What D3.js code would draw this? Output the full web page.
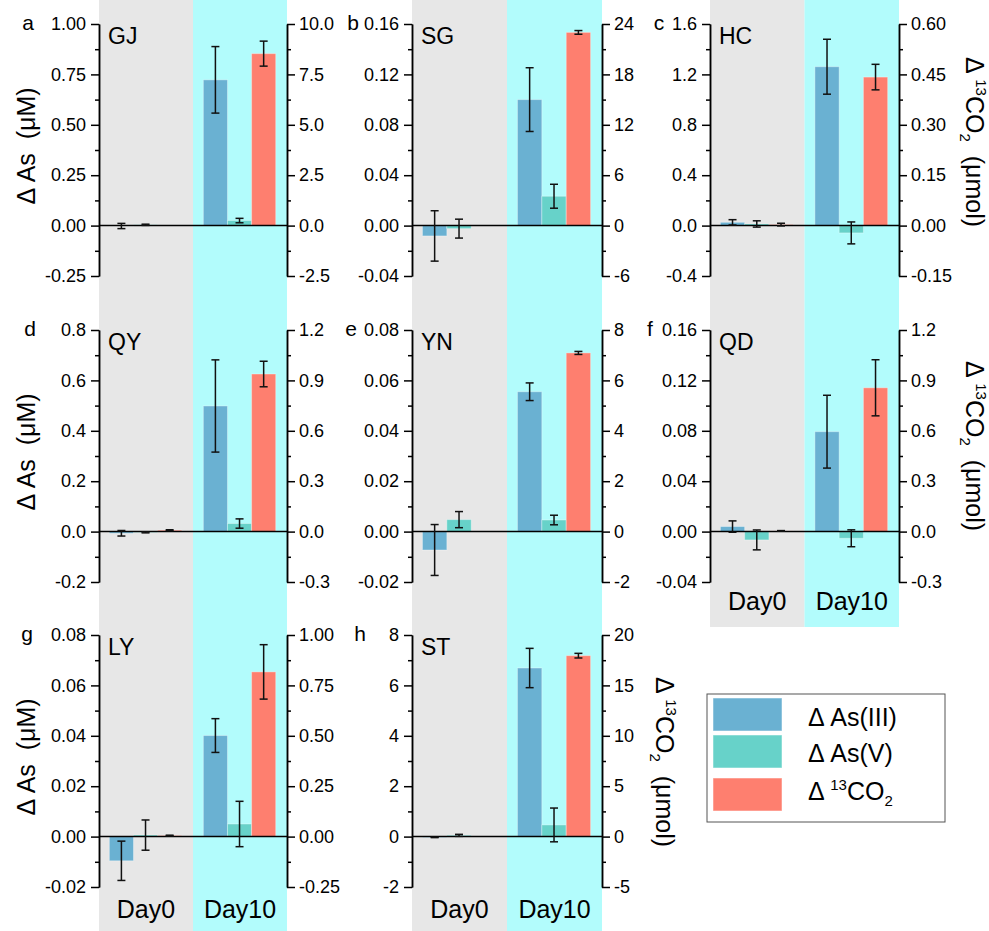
<!doctype html>
<html lang="en">
<head>
<meta charset="utf-8">
<title>As and 13CO2 by site</title>
<script src="https://cdn.jsdelivr.net/npm/d3@7"></script>
<style>
  body { margin: 0; background: #fff; }
  svg text { font-family: "Liberation Sans", Arial, sans-serif; fill: #000; }
</style>
</head>
<body>
<script>
// ---- data ----
var sites   = ["GJ", "SG", "HC", "QY", "YN", "QD", "LY", "ST"];
var letters = ["a", "b", "c", "d", "e", "f", "g", "h"];
var days    = ["Day0", "Day10"];
var seriesNames = ["As(III)", "As(V)", "13CO2"];

// values per site: [Day0, Day10]
var asIII    = [[-0.002, 0.723], [-0.0082, 0.100], [0.026, 1.261], [-0.0066, 0.4985],
                [-0.0073, 0.0555], [0.0040, 0.0793], [-0.0096, 0.0401], [-0.03, 6.69]];
var asIIIErr = [[0.013, 0.165], [0.020, 0.0253], [0.021, 0.218], [0.011, 0.183],
                [0.0101, 0.0035], [0.0045, 0.0289], [0.0078, 0.0067], [0.01, 0.78]];
var asV      = [[0.004, 0.025], [-0.0024, 0.0233], [0.013, -0.058], [-0.003, 0.032],
                [0.00475, 0.0046], [-0.0066, -0.0053], [0.0006, 0.005], [0.05, 0.463]];
var asVErr   = [[0.003, 0.011], [0.0075, 0.0095], [0.025, 0.087], [0.002, 0.0185],
                [0.0032, 0.0019], [0.0079, 0.0067], [0.006, 0.009], [0.04, 0.67]];
var co2      = [[0, 8.53], [0, 23.0], [0.003, 0.442], [0.008, 0.938],
                [0, 7.09], [0.004, 0.856], [0.005, 0.817], [0, 17.95]];
var co2Err   = [[0, 0.62], [0, 0.22], [0.004, 0.038], [0.003, 0.076],
                [0, 0.06], [0.002, 0.167], [0.002, 0.135], [0, 0.23]];

// axes: [min, max, step]
var leftAxis  = [[-0.25, 1.0, 0.25], [-0.04, 0.16, 0.04], [-0.4, 1.6, 0.4], [-0.2, 0.8, 0.2],
                 [-0.02, 0.08, 0.02], [-0.04, 0.16, 0.04], [-0.02, 0.08, 0.02], [-2, 8, 2]];
var leftFmt   = [".2f", ".2f", ".1f", ".1f", ".2f", ".2f", ".2f", ".0f"];
var rightAxis = [[-2.5, 10, 2.5], [-6, 24, 6], [-0.15, 0.6, 0.15], [-0.3, 1.2, 0.3],
                 [-2, 8, 2], [-0.3, 1.2, 0.3], [-0.25, 1.0, 0.25], [-5, 20, 5]];
var rightFmt  = [".1f", ".0f", ".2f", ".1f", ".0f", ".1f", ".2f", ".0f"];

// ---- layout ----
var W = 989, H = 931;
var cols = [{l: 99, r: 287}, {l: 412, r: 602}, {l: 710, r: 899}];
var rows = [{t: 24, b: 276}, {t: 330, b: 582}, {t: 635, b: 887}];
var bgBottom = [H, H, 627];
var letterX = [28, 353, 659, 30, 351, 650, 27, 360];
var colors = ["#6ab1d2", "#67d2c9", "#fe7f6f"];
var bgColors = ["#e7e7e7", "#b2fcfc"];

var loc = d3.formatLocale({decimal: ".", thousands: ",", grouping: [3], currency: ["", ""], minus: "-"});

var svg = d3.select("body").append("svg")
    .attr("width", W)
    .attr("height", H);

function ticksOf(a) {
    var n = Math.round((a[1] - a[0]) / a[2]);
    return d3.range(n + 1).map(i => +(a[0] + i * a[2]).toFixed(6));
}
function minorOf(a) {
    var n = Math.round((a[1] - a[0]) / a[2]);
    return d3.range(n).map(i => +(a[0] + (i + 0.5) * a[2]).toFixed(6));
}

// column backgrounds
cols.forEach(function(c, ci) {
    var xb = d3.scaleBand().domain(days).range([c.l, c.r]);
    svg.selectAll(null)
       .data(days)
       .enter()
       .append("rect")
       .attr("x", d => xb(d))
       .attr("y", 0)
       .attr("width", xb.bandwidth())
       .attr("height", bgBottom[ci])
       .attr("fill", (d, i) => bgColors[i]);
});

sites.forEach(function(site, i) {
    var c = cols[i % 3], r = rows[Math.floor(i / 3)];
    var g = svg.append("g");

    var x = d3.scaleBand().domain(days).range([c.l, c.r]);
    var xs = d3.scaleBand().domain([0, 1, 2])
               .range([x.bandwidth() * 0.11, x.bandwidth() * 0.88]);
    var yL = d3.scaleLinear().domain([leftAxis[i][0], leftAxis[i][1]]).range([r.b, r.t]);
    var yR = d3.scaleLinear().domain([rightAxis[i][0], rightAxis[i][1]]).range([r.b, r.t]);

    var rowsData = [];
    days.forEach(function(day, di) {
        rowsData.push({day: day, s: 0, v: asIII[i][di], e: asIIIErr[i][di], y: yL});
        rowsData.push({day: day, s: 1, v: asV[i][di], e: asVErr[i][di], y: yL});
        rowsData.push({day: day, s: 2, v: co2[i][di], e: co2Err[i][di], y: yR});
    });

    g.selectAll("rect.bar")
     .data(rowsData)
     .enter()
     .append("rect")
     .attr("class", "bar")
     .attr("x", d => x(d.day) + xs(d.s))
     .attr("width", xs.bandwidth())
     .attr("y", d => Math.min(d.y(d.v), d.y(0)))
     .attr("height", d => Math.abs(d.y(d.v) - d.y(0)))
     .attr("fill", d => colors[d.s])
     .attr("stroke", "rgba(255,255,255,0.35)")
     .attr("stroke-width", 1);

    // zero line
    g.append("line")
     .attr("x1", c.l).attr("x2", c.r)
     .attr("y1", yL(0)).attr("y2", yL(0))
     .attr("stroke", "#000").attr("stroke-width", 1.5);

    // error bars
    var eb = g.selectAll("g.err")
              .data(rowsData.filter(d => d.e > 0))
              .enter()
              .append("g")
              .attr("class", "err")
              .attr("stroke", "#111")
              .attr("stroke-width", 1.5);
    var cx = d => x(d.day) + xs(d.s) + xs.bandwidth() / 2;
    eb.append("line")
      .attr("x1", cx).attr("x2", cx)
      .attr("y1", d => d.y(d.v + d.e)).attr("y2", d => d.y(d.v - d.e));
    eb.append("line")
      .attr("x1", d => cx(d) - 4).attr("x2", d => cx(d) + 4)
      .attr("y1", d => d.y(d.v + d.e)).attr("y2", d => d.y(d.v + d.e));
    eb.append("line")
      .attr("x1", d => cx(d) - 4).attr("x2", d => cx(d) + 4)
      .attr("y1", d => d.y(d.v - d.e)).attr("y2", d => d.y(d.v - d.e));

    // axes
    g.append("g")
     .attr("transform", "translate(" + c.l + ",0)")
     .call(d3.axisLeft(yL).tickValues(ticksOf(leftAxis[i]))
             .tickFormat(loc.format(leftFmt[i])).tickSize(8).tickSizeOuter(0).tickPadding(5));
    g.append("g")
     .attr("transform", "translate(" + c.l + ",0)")
     .call(d3.axisLeft(yL).tickValues(minorOf(leftAxis[i])).tickFormat("").tickSize(4).tickSizeOuter(0));
    g.append("g")
     .attr("transform", "translate(" + c.r + ",0)")
     .call(d3.axisRight(yR).tickValues(ticksOf(rightAxis[i]))
             .tickFormat(loc.format(rightFmt[i])).tickSize(8).tickSizeOuter(0).tickPadding(4));
    g.append("g")
     .attr("transform", "translate(" + c.r + ",0)")
     .call(d3.axisRight(yR).tickValues(minorOf(rightAxis[i])).tickFormat("").tickSize(4).tickSizeOuter(0));

    g.selectAll(".domain, .tick line").attr("stroke", "#000").attr("stroke-width", 1.5);
    g.selectAll(".tick text").attr("font-size", 18).attr("fill", "#000")
     .style("font-family", "'Liberation Sans', Arial, sans-serif");

    // site name and panel letter
    g.append("text")
     .attr("x", c.l + 9).attr("y", r.t + 20)
     .attr("font-size", 23)
     .text(site);
    g.append("text")
     .attr("x", letterX[i]).attr("y", r.t + 6)
     .attr("text-anchor", "middle")
     .attr("font-size", 21)
     .text(letters[i]);

    // day labels at the bottom of each column
    if (i >= 5) {
        g.append("g")
         .attr("transform", "translate(0," + r.b + ")")
         .call(d3.axisBottom(x).tickSize(0).tickPadding(i == 5 ? 10 : 13))
         .call(a => a.select(".domain").remove())
         .selectAll("text")
         .attr("font-size", 25)
         .style("font-family", "'Liberation Sans', Arial, sans-serif");
    }
});

// left axis titles
rows.forEach(function(r) {
    svg.append("text")
       .attr("transform", "translate(35," + ((r.t + r.b) / 2 - 4) + ") rotate(-90)")
       .attr("text-anchor", "middle")
       .attr("font-size", 25)
       .style("white-space", "pre")
       .text("\u0394 As  (\u03bcM)");
});

// right axis titles
function co2Title(xp, yc) {
    var t = svg.append("text")
       .attr("transform", "translate(" + xp + "," + yc + ") rotate(90)")
       .attr("text-anchor", "middle")
       .attr("font-size", 25)
       .style("white-space", "pre");
    t.append("tspan").text("\u0394 ");
    t.append("tspan").attr("font-size", 15).attr("dy", -10).text("13");
    t.append("tspan").attr("dy", 10).text("CO");
    t.append("tspan").attr("font-size", 15).attr("dy", 6).text("2");
    t.append("tspan").attr("dy", -6).text("  (\u03bcmol)");
}
co2Title(966, 142);
co2Title(966, 446);
co2Title(656, 762);

// legend
var lg = svg.append("g");
lg.append("rect")
  .attr("x", 707).attr("y", 694).attr("width", 238).attr("height", 128)
  .attr("fill", "#fff").attr("stroke", "#555").attr("stroke-width", 1);
var ly = d3.scalePoint().domain(seriesNames).range([698, 778]);
lg.selectAll("rect.sw")
  .data(seriesNames)
  .enter()
  .append("rect")
  .attr("class", "sw")
  .attr("x", 713)
  .attr("y", (d, k) => k == 2 ? ly(d) : ly(d) - (k == 1 ? 3 : 0))
  .attr("width", 69).attr("height", 33)
  .attr("fill", (d, k) => colors[k])
  .attr("stroke", "rgba(255,255,255,0.5)");
var lt = lg.selectAll("text")
  .data(seriesNames)
  .enter()
  .append("text")
  .attr("x", 808)
  .attr("y", (d, k) => [726, 762, 800][k])
  .attr("font-size", 25);
lt.filter((d, k) => k < 2).text(d => "\u0394 " + d);
var last = lt.filter((d, k) => k == 2);
last.append("tspan").text("\u0394 ");
last.append("tspan").attr("font-size", 15).attr("dy", -10).text("13");
last.append("tspan").attr("dy", 10).text("CO");
last.append("tspan").attr("font-size", 15).attr("dy", 6).text("2");
</script>
</body>
</html>
